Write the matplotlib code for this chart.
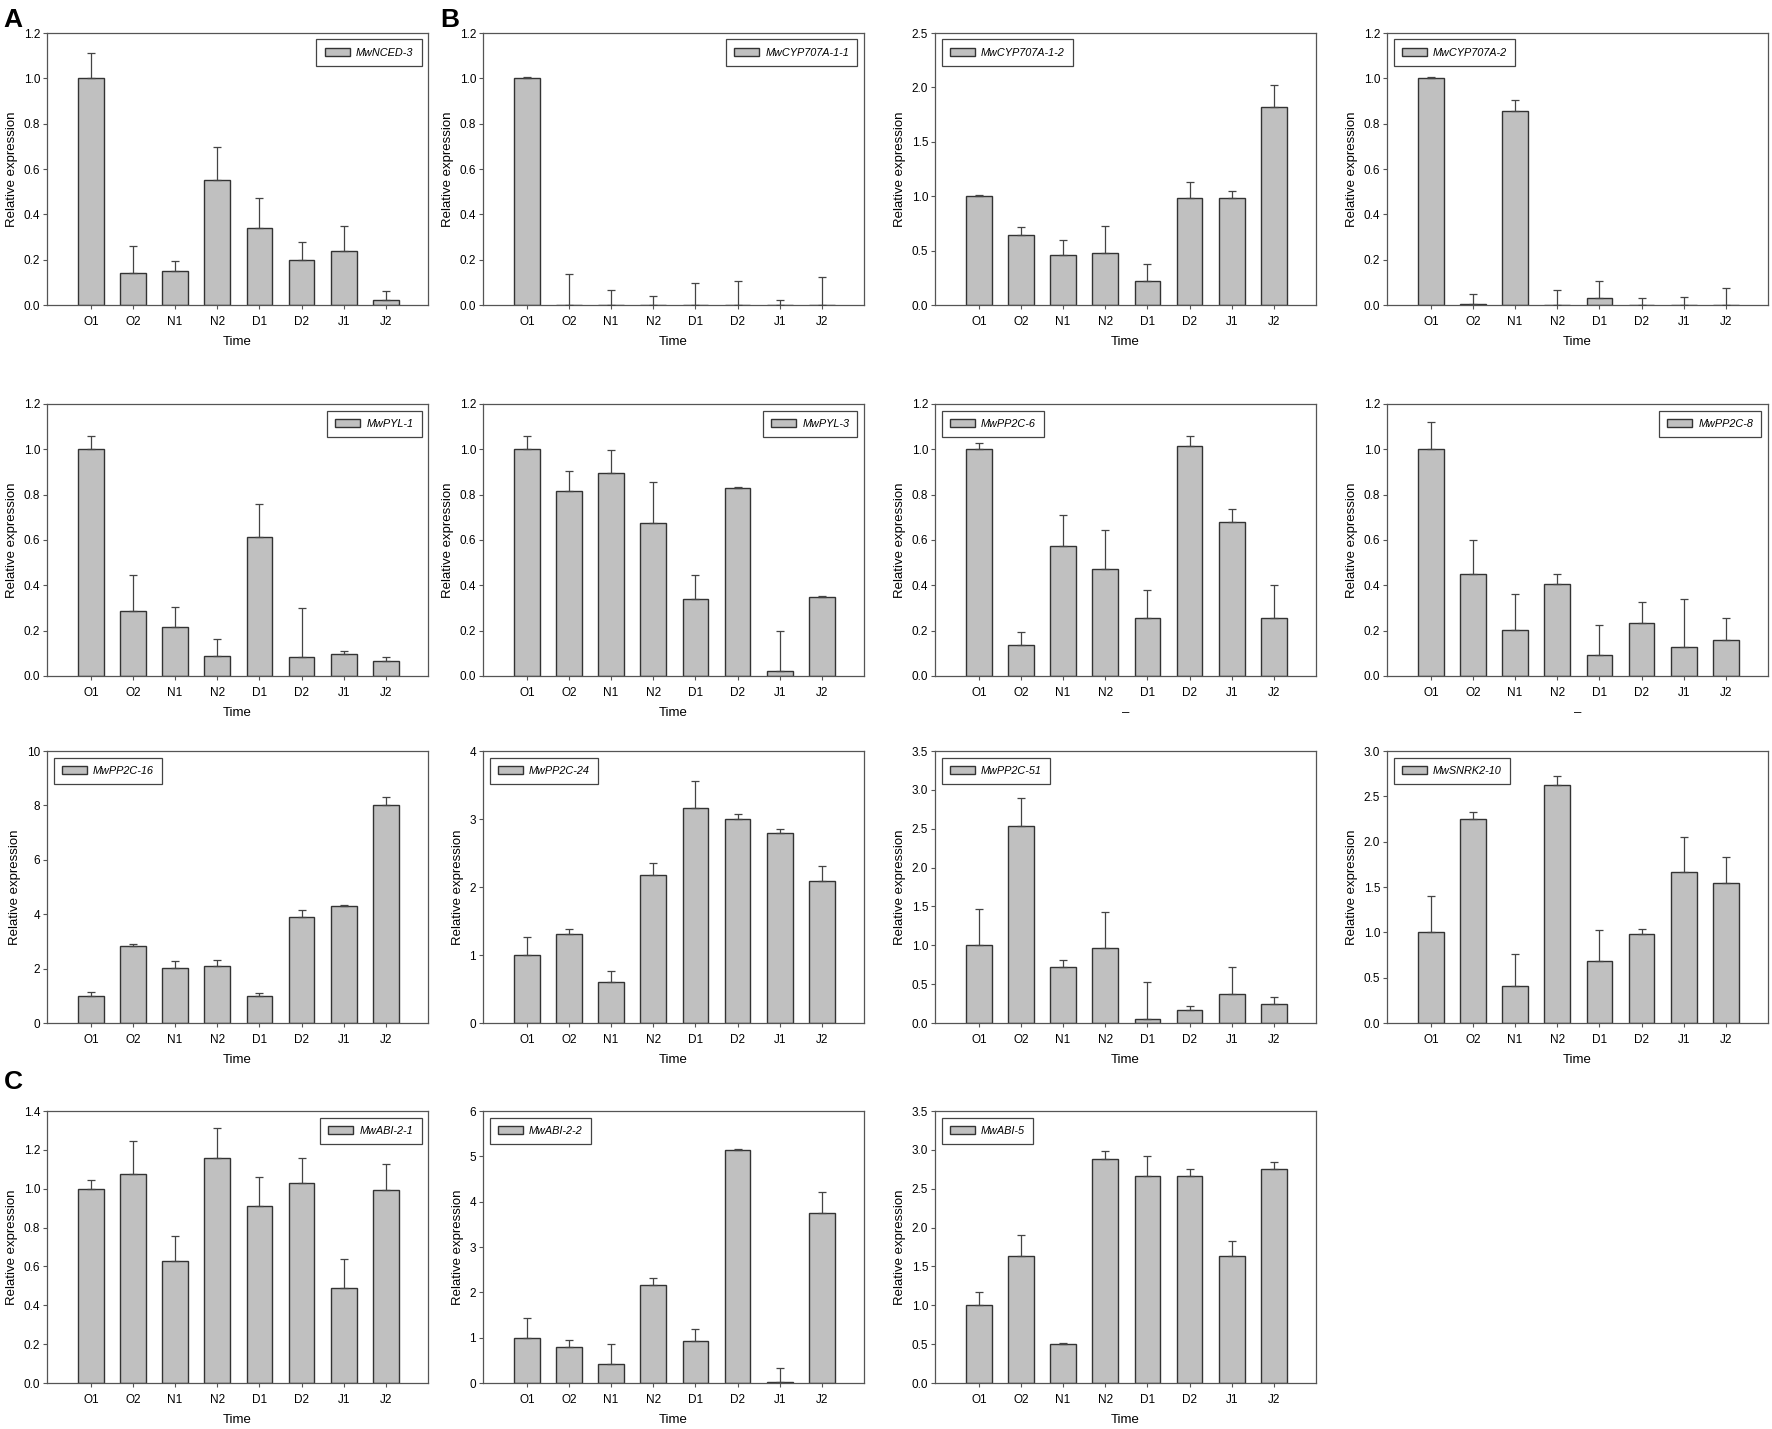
import numpy as np
import matplotlib
matplotlib.use('Agg')
import matplotlib.pyplot as plt
from matplotlib.ticker import FormatStrFormatter

plt.rcParams['font.family'] = ['Liberation Sans Narrow', 'Liberation Sans', 'DejaVu Sans']

times = ['O1', 'O2', 'N1', 'N2', 'D1', 'D2', 'J1', 'J2']

# mean relative expression and standard error (upper bar only)
nced3 = [1.0, 0.14, 0.15, 0.55, 0.34, 0.20, 0.24, 0.02]
nced3_err = [0.11, 0.12, 0.045, 0.145, 0.13, 0.08, 0.11, 0.04]
cyp11 = [1.0, 0.0, 0.0, 0.0, 0.0, 0.0, 0.0, 0.0]
cyp11_err = [0.005, 0.135, 0.065, 0.04, 0.095, 0.105, 0.022, 0.125]
cyp12 = [1.0, 0.645, 0.46, 0.48, 0.225, 0.98, 0.98, 1.82]
cyp12_err = [0.01, 0.07, 0.14, 0.245, 0.155, 0.15, 0.065, 0.2]
cyp2 = [1.0, 0.005, 0.855, 0.0, 0.03, 0.0, 0.0, 0.0]
cyp2_err = [0.007, 0.043, 0.05, 0.065, 0.075, 0.033, 0.035, 0.075]
pyl1 = [1.0, 0.285, 0.215, 0.09, 0.615, 0.085, 0.095, 0.068]
pyl1_err = [0.06, 0.16, 0.09, 0.075, 0.145, 0.215, 0.015, 0.018]
pyl3 = [1.0, 0.815, 0.895, 0.675, 0.34, 0.83, 0.02, 0.35]
pyl3_err = [0.06, 0.09, 0.10, 0.18, 0.105, 0.005, 0.18, 0.002]
pp2c6 = [1.0, 0.135, 0.575, 0.47, 0.255, 1.015, 0.68, 0.255]
pp2c6_err = [0.03, 0.06, 0.135, 0.175, 0.125, 0.045, 0.055, 0.145]
pp2c8 = [1.0, 0.45, 0.205, 0.405, 0.093, 0.235, 0.13, 0.16]
pp2c8_err = [0.12, 0.15, 0.155, 0.045, 0.13, 0.09, 0.21, 0.095]
pp2c16 = [1.0, 2.84, 2.01, 2.11, 1.0, 3.89, 4.29, 8.02]
pp2c16_err = [0.15, 0.07, 0.27, 0.22, 0.09, 0.25, 0.04, 0.28]
pp2c24 = [1.0, 1.31, 0.6, 2.17, 3.16, 3.0, 2.79, 2.09]
pp2c24_err = [0.27, 0.07, 0.16, 0.19, 0.4, 0.08, 0.07, 0.22]
pp2c51 = [1.0, 2.53, 0.726, 0.96, 0.057, 0.165, 0.37, 0.25]
pp2c51_err = [0.47, 0.36, 0.085, 0.47, 0.475, 0.055, 0.35, 0.085]
snrk = [1.0, 2.25, 0.41, 2.625, 0.68, 0.98, 1.66, 1.54]
snrk_err = [0.4, 0.08, 0.35, 0.095, 0.35, 0.06, 0.39, 0.29]
abi21 = [1.0, 1.077, 0.628, 1.16, 0.909, 1.029, 0.487, 0.995]
abi21_err = [0.046, 0.171, 0.131, 0.15, 0.153, 0.128, 0.153, 0.132]
abi22 = [1.0, 0.79, 0.42, 2.17, 0.92, 5.13, 0.02, 3.75]
abi22_err = [0.44, 0.15, 0.44, 0.15, 0.28, 0.03, 0.3, 0.47]
abi5 = [1.0, 1.63, 0.5, 2.88, 2.67, 2.67, 1.64, 2.75]
abi5_err = [0.17, 0.28, 0.02, 0.1, 0.25, 0.09, 0.19, 0.09]

# (row, col, gene, mean, err, ymax, ystep, fmt, legend loc, xlabel)
panels = [
    (0, 0, 'MwNCED-3', nced3, nced3_err, 1.2, 0.2, '%.1f', 'upper right', 'Time'),
    (0, 1, 'MwCYP707A-1-1', cyp11, cyp11_err, 1.2, 0.2, '%.1f', 'upper right', 'Time'),
    (0, 2, 'MwCYP707A-1-2', cyp12, cyp12_err, 2.5, 0.5, '%.1f', 'upper left', 'Time'),
    (0, 3, 'MwCYP707A-2', cyp2, cyp2_err, 1.2, 0.2, '%.1f', 'upper left', 'Time'),
    (1, 0, 'MwPYL-1', pyl1, pyl1_err, 1.2, 0.2, '%.1f', 'upper right', 'Time'),
    (1, 1, 'MwPYL-3', pyl3, pyl3_err, 1.2, 0.2, '%.1f', 'upper right', 'Time'),
    (1, 2, 'MwPP2C-6', pp2c6, pp2c6_err, 1.2, 0.2, '%.1f', 'upper left', '\u2013'),
    (1, 3, 'MwPP2C-8', pp2c8, pp2c8_err, 1.2, 0.2, '%.1f', 'upper right', '\u2013'),
    (2, 0, 'MwPP2C-16', pp2c16, pp2c16_err, 10, 2, '%d', 'upper left', 'Time'),
    (2, 1, 'MwPP2C-24', pp2c24, pp2c24_err, 4, 1, '%d', 'upper left', 'Time'),
    (2, 2, 'MwPP2C-51', pp2c51, pp2c51_err, 3.5, 0.5, '%.1f', 'upper left', 'Time'),
    (2, 3, 'MwSNRK2-10', snrk, snrk_err, 3.0, 0.5, '%.1f', 'upper left', 'Time'),
    (3, 0, 'MwABI-2-1', abi21, abi21_err, 1.4, 0.2, '%.1f', 'upper right', 'Time'),
    (3, 1, 'MwABI-2-2', abi22, abi22_err, 6, 1, '%d', 'upper left', 'Time'),
    (3, 2, 'MwABI-5', abi5, abi5_err, 3.5, 0.5, '%.1f', 'upper left', 'Time'),
]

W, H = 1772, 1429
fig = plt.figure(figsize=(W / 100, H / 100), dpi=100)

col_left = [47, 483, 935, 1387]
ax_w = 381
row_top = [33, 404, 751, 1111]
ax_h = 272

edge = '#333333'
spine = '#555555'
x = np.arange(len(times))

for r, c, gene, mean, err, ymax, ystep, fmt, loc, xlab in panels:
    ax = fig.add_axes([col_left[c] / W, 1 - (row_top[r] + ax_h) / H, ax_w / W, ax_h / H])
    ax.bar(x, mean, width=0.61, color='#c0c0c0', edgecolor=edge, linewidth=1.0,
           label=gene, zorder=2)
    ax.errorbar(x, mean, yerr=[np.zeros(len(err)), err], fmt='none', ecolor='#444444',
                elinewidth=0.9, capsize=3, capthick=0.9, zorder=3)
    ax.set_xlim(-1.04, 8.0)
    ax.set_ylim(0, ymax)
    ax.set_yticks(np.arange(0, ymax + ystep / 2, ystep))
    ax.yaxis.set_major_formatter(FormatStrFormatter(fmt))
    ax.set_xticks(x)
    ax.set_xticklabels(times)
    ax.tick_params(direction='out', length=3, width=0.8, color=spine, labelsize=8.5,
                   pad=2)
    ax.tick_params(axis='x', pad=5)
    for s in ax.spines.values():
        s.set_color(spine)
        s.set_linewidth(0.9)
    ax.set_xlabel(xlab, fontsize=9.5, labelpad=6)
    ax.set_ylabel('Relative expression', fontsize=9.5, family='Liberation Sans',
                  labelpad=4)
    leg = ax.legend(loc=loc, fancybox=False, framealpha=1, edgecolor='#444444',
                    prop={'style': 'italic', 'size': 7.8},
                    handlelength=2.3, handleheight=0.85, handletextpad=0.6,
                    borderpad=0.75, borderaxespad=0.6)
    leg.get_frame().set_linewidth(0.9)

for letter, lx, ly in [('A', 3, 8), ('B', 440, 8), ('C', 4, 1070)]:
    fig.text(lx / W, 1 - ly / H, letter, fontsize=19, fontweight='bold',
             family='Liberation Sans', va='top', ha='left')

fig.savefig('out.png', dpi=100)
